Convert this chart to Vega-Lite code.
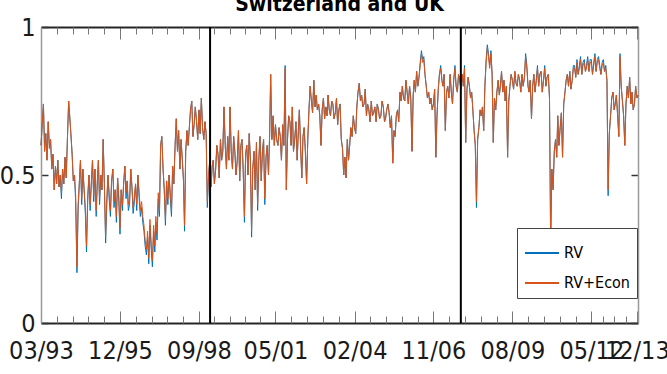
{
"$schema":"https://vega.github.io/schema/vega-lite/v6.json",
"width":597,"height":296,
"autosize":{"type":"none"},
"padding":{"left":41,"top":27,"right":29,"bottom":51},
"background":"white",
"config":{"view":{"stroke":null},"font":"DejaVu Sans Condensed, Liberation Sans, sans-serif","axis":{"grid":false,"title":null}},
"title":{"text":"Switzerland and UK","font":"DejaVu Sans Condensed, Liberation Sans, sans-serif","fontSize":21,"fontWeight":"bold","color":"#000","anchor":"middle","frame":"group","baseline":"alphabetic","offset":-17},
"data":{"values":[
{"t":"1993-03-01","a":0.6,"b":0.6},{"t":"1993-03-16","a":0.67,"b":0.67},{"t":"1993-04-01","a":0.74,"b":0.74},{"t":"1993-04-16","a":0.58,"b":0.58},
{"t":"1993-05-01","a":0.64,"b":0.64},{"t":"1993-05-16","a":0.55,"b":0.55},{"t":"1993-06-01","a":0.68,"b":0.68},{"t":"1993-06-16","a":0.59,"b":0.59},
{"t":"1993-07-01","a":0.62,"b":0.62},{"t":"1993-07-16","a":0.52,"b":0.52},{"t":"1993-08-01","a":0.57,"b":0.57},{"t":"1993-08-16","a":0.45,"b":0.45},
{"t":"1993-09-01","a":0.53,"b":0.53},{"t":"1993-09-16","a":0.47,"b":0.47},{"t":"1993-10-01","a":0.55,"b":0.55},{"t":"1993-10-16","a":0.46,"b":0.46},
{"t":"1993-11-01","a":0.5,"b":0.5},{"t":"1993-11-16","a":0.42,"b":0.44},{"t":"1993-12-01","a":0.52,"b":0.52},{"t":"1993-12-16","a":0.47,"b":0.47},
{"t":"1994-01-01","a":0.56,"b":0.56},{"t":"1994-01-16","a":0.49,"b":0.49},{"t":"1994-02-01","a":0.63,"b":0.63},{"t":"1994-02-16","a":0.75,"b":0.75},
{"t":"1994-03-01","a":0.7,"b":0.7},{"t":"1994-03-16","a":0.64,"b":0.64},{"t":"1994-04-01","a":0.57,"b":0.57},{"t":"1994-04-16","a":0.48,"b":0.48},
{"t":"1994-05-01","a":0.5,"b":0.5},{"t":"1994-05-16","a":0.41,"b":0.43},{"t":"1994-06-01","a":0.17,"b":0.19},{"t":"1994-06-16","a":0.38,"b":0.4},
{"t":"1994-07-01","a":0.47,"b":0.47},{"t":"1994-07-16","a":0.55,"b":0.55},{"t":"1994-08-01","a":0.4,"b":0.42},{"t":"1994-08-16","a":0.52,"b":0.52},
{"t":"1994-09-01","a":0.45,"b":0.45},{"t":"1994-09-16","a":0.37,"b":0.39},{"t":"1994-10-01","a":0.24,"b":0.26},{"t":"1994-10-16","a":0.41,"b":0.43},
{"t":"1994-11-01","a":0.5,"b":0.5},{"t":"1994-11-16","a":0.38,"b":0.4},{"t":"1994-12-01","a":0.47,"b":0.47},{"t":"1994-12-16","a":0.55,"b":0.55},
{"t":"1995-01-01","a":0.41,"b":0.43},{"t":"1995-01-16","a":0.52,"b":0.52},{"t":"1995-02-01","a":0.36,"b":0.38},{"t":"1995-02-16","a":0.48,"b":0.48},
{"t":"1995-03-01","a":0.55,"b":0.55},{"t":"1995-03-16","a":0.4,"b":0.42},{"t":"1995-04-01","a":0.5,"b":0.5},{"t":"1995-04-16","a":0.45,"b":0.45},
{"t":"1995-05-01","a":0.62,"b":0.62},{"t":"1995-05-16","a":0.47,"b":0.47},{"t":"1995-06-01","a":0.27,"b":0.29},{"t":"1995-06-16","a":0.4,"b":0.42},
{"t":"1995-07-01","a":0.5,"b":0.5},{"t":"1995-07-16","a":0.42,"b":0.44},{"t":"1995-08-01","a":0.36,"b":0.38},{"t":"1995-08-16","a":0.48,"b":0.48},
{"t":"1995-09-01","a":0.52,"b":0.52},{"t":"1995-09-16","a":0.39,"b":0.41},{"t":"1995-10-01","a":0.45,"b":0.45},{"t":"1995-10-16","a":0.34,"b":0.36},
{"t":"1995-11-01","a":0.49,"b":0.49},{"t":"1995-11-16","a":0.41,"b":0.43},{"t":"1995-12-01","a":0.3,"b":0.32},{"t":"1995-12-16","a":0.45,"b":0.45},
{"t":"1996-01-01","a":0.38,"b":0.4},{"t":"1996-01-16","a":0.47,"b":0.47},{"t":"1996-02-01","a":0.53,"b":0.53},{"t":"1996-02-16","a":0.42,"b":0.44},
{"t":"1996-03-01","a":0.48,"b":0.48},{"t":"1996-03-16","a":0.38,"b":0.4},{"t":"1996-04-01","a":0.4,"b":0.42},{"t":"1996-04-16","a":0.52,"b":0.52},
{"t":"1996-05-01","a":0.46,"b":0.46},{"t":"1996-05-16","a":0.37,"b":0.39},{"t":"1996-06-01","a":0.41,"b":0.43},{"t":"1996-06-16","a":0.47,"b":0.47},
{"t":"1996-07-01","a":0.38,"b":0.4},{"t":"1996-07-16","a":0.5,"b":0.5},{"t":"1996-08-01","a":0.42,"b":0.44},{"t":"1996-08-16","a":0.36,"b":0.38},
{"t":"1996-09-01","a":0.39,"b":0.41},{"t":"1996-09-16","a":0.34,"b":0.36},{"t":"1996-10-01","a":0.31,"b":0.33},{"t":"1996-10-16","a":0.26,"b":0.28},
{"t":"1996-11-01","a":0.23,"b":0.25},{"t":"1996-11-16","a":0.29,"b":0.31},{"t":"1996-12-01","a":0.2,"b":0.22},{"t":"1996-12-16","a":0.33,"b":0.35},
{"t":"1997-01-01","a":0.25,"b":0.27},{"t":"1997-01-16","a":0.19,"b":0.21},{"t":"1997-02-01","a":0.31,"b":0.33},{"t":"1997-02-16","a":0.24,"b":0.26},
{"t":"1997-03-01","a":0.34,"b":0.36},{"t":"1997-03-16","a":0.28,"b":0.3},{"t":"1997-04-01","a":0.42,"b":0.44},{"t":"1997-04-16","a":0.36,"b":0.38},
{"t":"1997-05-01","a":0.6,"b":0.6},{"t":"1997-05-16","a":0.63,"b":0.63},{"t":"1997-06-01","a":0.52,"b":0.52},{"t":"1997-06-16","a":0.45,"b":0.45},
{"t":"1997-07-01","a":0.33,"b":0.35},{"t":"1997-07-16","a":0.48,"b":0.48},{"t":"1997-08-01","a":0.4,"b":0.42},{"t":"1997-08-16","a":0.5,"b":0.5},
{"t":"1997-09-01","a":0.42,"b":0.44},{"t":"1997-09-16","a":0.36,"b":0.38},{"t":"1997-10-01","a":0.53,"b":0.53},{"t":"1997-10-16","a":0.47,"b":0.47},
{"t":"1997-11-01","a":0.6,"b":0.6},{"t":"1997-11-16","a":0.69,"b":0.69},{"t":"1997-12-01","a":0.58,"b":0.58},{"t":"1997-12-16","a":0.65,"b":0.65},
{"t":"1998-01-01","a":0.52,"b":0.52},{"t":"1998-01-16","a":0.62,"b":0.62},{"t":"1998-02-01","a":0.55,"b":0.55},{"t":"1998-02-16","a":0.48,"b":0.48},
{"t":"1998-03-01","a":0.31,"b":0.33},{"t":"1998-03-16","a":0.58,"b":0.58},{"t":"1998-04-01","a":0.65,"b":0.65},{"t":"1998-04-16","a":0.6,"b":0.6},
{"t":"1998-05-01","a":0.66,"b":0.66},{"t":"1998-05-16","a":0.72,"b":0.72},{"t":"1998-06-01","a":0.75,"b":0.75},{"t":"1998-06-16","a":0.63,"b":0.63},
{"t":"1998-07-01","a":0.67,"b":0.67},{"t":"1998-07-16","a":0.73,"b":0.73},{"t":"1998-08-01","a":0.68,"b":0.68},{"t":"1998-08-16","a":0.62,"b":0.62},
{"t":"1998-09-01","a":0.72,"b":0.72},{"t":"1998-09-16","a":0.64,"b":0.64},{"t":"1998-10-01","a":0.76,"b":0.76},{"t":"1998-10-16","a":0.66,"b":0.66},
{"t":"1998-11-01","a":0.62,"b":0.62},{"t":"1998-11-16","a":0.68,"b":0.68},{"t":"1998-12-01","a":0.64,"b":0.64},{"t":"1998-12-16","a":0.39,"b":0.41},
{"t":"1999-01-01","a":0.5,"b":0.5},{"t":"1999-01-16","a":0.55,"b":0.55},{"t":"1999-02-01","a":0.46,"b":0.46},{"t":"1999-02-16","a":0.53,"b":0.53},
{"t":"1999-03-01","a":0.55,"b":0.55},{"t":"1999-03-16","a":0.47,"b":0.47},{"t":"1999-04-01","a":0.52,"b":0.52},{"t":"1999-04-16","a":0.6,"b":0.6},
{"t":"1999-05-01","a":0.57,"b":0.57},{"t":"1999-05-16","a":0.49,"b":0.49},{"t":"1999-06-01","a":0.62,"b":0.62},{"t":"1999-06-16","a":0.55,"b":0.55},
{"t":"1999-07-01","a":0.58,"b":0.58},{"t":"1999-07-16","a":0.73,"b":0.73},{"t":"1999-08-01","a":0.6,"b":0.6},{"t":"1999-08-16","a":0.52,"b":0.52},
{"t":"1999-09-01","a":0.63,"b":0.63},{"t":"1999-09-16","a":0.55,"b":0.55},{"t":"1999-10-01","a":0.73,"b":0.73},{"t":"1999-10-16","a":0.58,"b":0.58},
{"t":"1999-11-01","a":0.52,"b":0.52},{"t":"1999-11-16","a":0.63,"b":0.63},{"t":"1999-12-01","a":0.58,"b":0.58},{"t":"1999-12-16","a":0.5,"b":0.5},
{"t":"2000-01-01","a":0.55,"b":0.55},{"t":"2000-01-16","a":0.65,"b":0.65},{"t":"2000-02-01","a":0.48,"b":0.48},{"t":"2000-02-16","a":0.6,"b":0.6},
{"t":"2000-03-01","a":0.62,"b":0.62},{"t":"2000-03-16","a":0.52,"b":0.52},{"t":"2000-04-01","a":0.34,"b":0.36},{"t":"2000-04-16","a":0.57,"b":0.57},
{"t":"2000-05-01","a":0.6,"b":0.6},{"t":"2000-05-16","a":0.5,"b":0.5},{"t":"2000-06-01","a":0.64,"b":0.64},{"t":"2000-06-16","a":0.55,"b":0.55},
{"t":"2000-07-01","a":0.29,"b":0.31},{"t":"2000-07-16","a":0.52,"b":0.52},{"t":"2000-08-01","a":0.58,"b":0.58},{"t":"2000-08-16","a":0.45,"b":0.45},
{"t":"2000-09-01","a":0.61,"b":0.61},{"t":"2000-09-16","a":0.38,"b":0.4},{"t":"2000-10-01","a":0.55,"b":0.55},{"t":"2000-10-16","a":0.63,"b":0.63},
{"t":"2000-11-01","a":0.48,"b":0.48},{"t":"2000-11-16","a":0.58,"b":0.58},{"t":"2000-12-01","a":0.62,"b":0.62},{"t":"2000-12-16","a":0.4,"b":0.42},
{"t":"2001-01-01","a":0.56,"b":0.56},{"t":"2001-01-16","a":0.6,"b":0.6},{"t":"2001-02-01","a":0.5,"b":0.5},{"t":"2001-02-16","a":0.64,"b":0.64},
{"t":"2001-03-01","a":0.84,"b":0.84},{"t":"2001-03-16","a":0.62,"b":0.62},{"t":"2001-04-01","a":0.7,"b":0.7},{"t":"2001-04-16","a":0.6,"b":0.6},
{"t":"2001-05-01","a":0.67,"b":0.67},{"t":"2001-05-16","a":0.62,"b":0.62},{"t":"2001-06-01","a":0.6,"b":0.6},{"t":"2001-06-16","a":0.66,"b":0.66},
{"t":"2001-07-01","a":0.63,"b":0.63},{"t":"2001-07-16","a":0.55,"b":0.55},{"t":"2001-08-01","a":0.67,"b":0.67},{"t":"2001-08-16","a":0.6,"b":0.6},
{"t":"2001-09-01","a":0.87,"b":0.86},{"t":"2001-09-16","a":0.45,"b":0.45},{"t":"2001-10-01","a":0.62,"b":0.62},{"t":"2001-10-16","a":0.7,"b":0.7},
{"t":"2001-11-01","a":0.68,"b":0.68},{"t":"2001-11-16","a":0.6,"b":0.6},{"t":"2001-12-01","a":0.73,"b":0.73},{"t":"2001-12-16","a":0.58,"b":0.58},
{"t":"2002-01-01","a":0.62,"b":0.62},{"t":"2002-01-16","a":0.68,"b":0.68},{"t":"2002-02-01","a":0.55,"b":0.55},{"t":"2002-02-16","a":0.65,"b":0.65},
{"t":"2002-03-01","a":0.72,"b":0.72},{"t":"2002-03-16","a":0.6,"b":0.6},{"t":"2002-04-01","a":0.49,"b":0.49},{"t":"2002-04-16","a":0.63,"b":0.63},
{"t":"2002-05-01","a":0.66,"b":0.66},{"t":"2002-05-16","a":0.58,"b":0.58},{"t":"2002-06-01","a":0.47,"b":0.47},{"t":"2002-06-16","a":0.62,"b":0.62},
{"t":"2002-07-01","a":0.72,"b":0.72},{"t":"2002-07-16","a":0.8,"b":0.8},{"t":"2002-08-01","a":0.75,"b":0.75},{"t":"2002-08-16","a":0.71,"b":0.71},
{"t":"2002-09-01","a":0.82,"b":0.82},{"t":"2002-09-16","a":0.73,"b":0.73},{"t":"2002-10-01","a":0.77,"b":0.77},{"t":"2002-10-16","a":0.72,"b":0.72},
{"t":"2002-11-01","a":0.74,"b":0.74},{"t":"2002-11-16","a":0.7,"b":0.7},{"t":"2002-12-01","a":0.6,"b":0.6},{"t":"2002-12-16","a":0.72,"b":0.72},
{"t":"2003-01-01","a":0.76,"b":0.76},{"t":"2003-01-16","a":0.69,"b":0.69},{"t":"2003-02-01","a":0.73,"b":0.73},{"t":"2003-02-16","a":0.7,"b":0.7},
{"t":"2003-03-01","a":0.77,"b":0.77},{"t":"2003-03-16","a":0.72,"b":0.72},{"t":"2003-04-01","a":0.7,"b":0.7},{"t":"2003-04-16","a":0.75,"b":0.75},
{"t":"2003-05-01","a":0.74,"b":0.74},{"t":"2003-05-16","a":0.69,"b":0.69},{"t":"2003-06-01","a":0.71,"b":0.71},{"t":"2003-06-16","a":0.76,"b":0.76},
{"t":"2003-07-01","a":0.67,"b":0.67},{"t":"2003-07-16","a":0.72,"b":0.72},{"t":"2003-08-01","a":0.74,"b":0.74},{"t":"2003-08-16","a":0.62,"b":0.62},
{"t":"2003-09-01","a":0.59,"b":0.59},{"t":"2003-09-16","a":0.5,"b":0.5},{"t":"2003-10-01","a":0.56,"b":0.56},{"t":"2003-10-16","a":0.49,"b":0.49},
{"t":"2003-11-01","a":0.62,"b":0.62},{"t":"2003-11-16","a":0.55,"b":0.55},{"t":"2003-12-01","a":0.6,"b":0.6},{"t":"2003-12-16","a":0.66,"b":0.66},
{"t":"2004-01-01","a":0.63,"b":0.63},{"t":"2004-01-16","a":0.7,"b":0.7},{"t":"2004-02-01","a":0.66,"b":0.66},{"t":"2004-02-16","a":0.64,"b":0.64},
{"t":"2004-03-01","a":0.73,"b":0.73},{"t":"2004-03-16","a":0.78,"b":0.78},{"t":"2004-04-01","a":0.81,"b":0.81},{"t":"2004-04-16","a":0.75,"b":0.75},
{"t":"2004-05-01","a":0.77,"b":0.77},{"t":"2004-05-16","a":0.73,"b":0.73},{"t":"2004-06-01","a":0.74,"b":0.74},{"t":"2004-06-16","a":0.79,"b":0.79},
{"t":"2004-07-01","a":0.7,"b":0.7},{"t":"2004-07-16","a":0.74,"b":0.74},{"t":"2004-08-01","a":0.72,"b":0.72},{"t":"2004-08-16","a":0.68,"b":0.68},
{"t":"2004-09-01","a":0.75,"b":0.75},{"t":"2004-09-16","a":0.7,"b":0.7},{"t":"2004-10-01","a":0.71,"b":0.71},{"t":"2004-10-16","a":0.73,"b":0.73},
{"t":"2004-11-01","a":0.68,"b":0.68},{"t":"2004-11-16","a":0.74,"b":0.74},{"t":"2004-12-01","a":0.72,"b":0.72},{"t":"2004-12-16","a":0.69,"b":0.69},
{"t":"2005-01-01","a":0.7,"b":0.7},{"t":"2005-01-16","a":0.75,"b":0.75},{"t":"2005-02-01","a":0.73,"b":0.73},{"t":"2005-02-16","a":0.68,"b":0.68},
{"t":"2005-03-01","a":0.69,"b":0.69},{"t":"2005-03-16","a":0.72,"b":0.72},{"t":"2005-04-01","a":0.74,"b":0.74},{"t":"2005-04-16","a":0.71,"b":0.71},
{"t":"2005-05-01","a":0.66,"b":0.66},{"t":"2005-05-16","a":0.7,"b":0.7},{"t":"2005-06-01","a":0.54,"b":0.54},{"t":"2005-06-16","a":0.65,"b":0.65},
{"t":"2005-07-01","a":0.63,"b":0.63},{"t":"2005-07-16","a":0.7,"b":0.7},{"t":"2005-08-01","a":0.72,"b":0.72},{"t":"2005-08-16","a":0.68,"b":0.68},
{"t":"2005-09-01","a":0.78,"b":0.78},{"t":"2005-09-16","a":0.75,"b":0.75},{"t":"2005-10-01","a":0.8,"b":0.8},{"t":"2005-10-16","a":0.76,"b":0.76},
{"t":"2005-11-01","a":0.75,"b":0.75},{"t":"2005-11-16","a":0.82,"b":0.82},{"t":"2005-12-01","a":0.78,"b":0.78},{"t":"2005-12-16","a":0.74,"b":0.74},
{"t":"2006-01-01","a":0.8,"b":0.8},{"t":"2006-01-16","a":0.76,"b":0.76},{"t":"2006-02-01","a":0.58,"b":0.58},{"t":"2006-02-16","a":0.77,"b":0.77},
{"t":"2006-03-01","a":0.82,"b":0.82},{"t":"2006-03-16","a":0.78,"b":0.78},{"t":"2006-04-01","a":0.85,"b":0.85},{"t":"2006-04-16","a":0.8,"b":0.8},
{"t":"2006-05-01","a":0.83,"b":0.83},{"t":"2006-05-16","a":0.88,"b":0.87},{"t":"2006-06-01","a":0.92,"b":0.91},{"t":"2006-06-16","a":0.89,"b":0.88},
{"t":"2006-07-01","a":0.9,"b":0.89},{"t":"2006-07-16","a":0.84,"b":0.84},{"t":"2006-08-01","a":0.8,"b":0.8},{"t":"2006-08-16","a":0.76,"b":0.76},
{"t":"2006-09-01","a":0.78,"b":0.78},{"t":"2006-09-16","a":0.74,"b":0.74},{"t":"2006-10-01","a":0.76,"b":0.76},{"t":"2006-10-16","a":0.72,"b":0.72},
{"t":"2006-11-01","a":0.74,"b":0.74},{"t":"2006-11-16","a":0.79,"b":0.79},{"t":"2006-12-01","a":0.56,"b":0.56},{"t":"2006-12-16","a":0.7,"b":0.7},
{"t":"2007-01-01","a":0.79,"b":0.79},{"t":"2007-01-16","a":0.84,"b":0.84},{"t":"2007-02-01","a":0.87,"b":0.86},{"t":"2007-02-16","a":0.82,"b":0.82},
{"t":"2007-03-01","a":0.8,"b":0.8},{"t":"2007-03-16","a":0.84,"b":0.84},{"t":"2007-04-01","a":0.65,"b":0.65},{"t":"2007-04-16","a":0.78,"b":0.78},
{"t":"2007-05-01","a":0.8,"b":0.8},{"t":"2007-05-16","a":0.76,"b":0.76},{"t":"2007-06-01","a":0.84,"b":0.84},{"t":"2007-06-16","a":0.78,"b":0.78},
{"t":"2007-07-01","a":0.74,"b":0.74},{"t":"2007-07-16","a":0.82,"b":0.82},{"t":"2007-08-01","a":0.87,"b":0.86},{"t":"2007-08-16","a":0.8,"b":0.8},
{"t":"2007-09-01","a":0.78,"b":0.78},{"t":"2007-09-16","a":0.84,"b":0.84},{"t":"2007-10-01","a":0.82,"b":0.82},{"t":"2007-10-16","a":0.79,"b":0.79},
{"t":"2007-11-01","a":0.84,"b":0.84},{"t":"2007-11-16","a":0.8,"b":0.8},{"t":"2007-12-01","a":0.87,"b":0.86},{"t":"2007-12-16","a":0.61,"b":0.61},
{"t":"2008-01-01","a":0.79,"b":0.79},{"t":"2008-01-16","a":0.83,"b":0.83},{"t":"2008-02-01","a":0.8,"b":0.8},{"t":"2008-02-16","a":0.76,"b":0.76},
{"t":"2008-03-01","a":0.78,"b":0.78},{"t":"2008-03-16","a":0.72,"b":0.72},{"t":"2008-04-01","a":0.65,"b":0.65},{"t":"2008-04-16","a":0.6,"b":0.6},
{"t":"2008-05-01","a":0.39,"b":0.41},{"t":"2008-05-16","a":0.62,"b":0.62},{"t":"2008-06-01","a":0.66,"b":0.66},{"t":"2008-06-16","a":0.72,"b":0.72},
{"t":"2008-07-01","a":0.7,"b":0.7},{"t":"2008-07-16","a":0.73,"b":0.73},{"t":"2008-08-01","a":0.65,"b":0.65},{"t":"2008-08-16","a":0.8,"b":0.8},
{"t":"2008-09-01","a":0.89,"b":0.88},{"t":"2008-09-16","a":0.94,"b":0.93},{"t":"2008-10-01","a":0.91,"b":0.9},{"t":"2008-10-16","a":0.87,"b":0.86},
{"t":"2008-11-01","a":0.92,"b":0.91},{"t":"2008-11-16","a":0.84,"b":0.84},{"t":"2008-12-01","a":0.61,"b":0.61},{"t":"2008-12-16","a":0.76,"b":0.76},
{"t":"2009-01-01","a":0.72,"b":0.72},{"t":"2009-01-16","a":0.78,"b":0.78},{"t":"2009-02-01","a":0.82,"b":0.82},{"t":"2009-02-16","a":0.77,"b":0.77},
{"t":"2009-03-01","a":0.8,"b":0.8},{"t":"2009-03-16","a":0.85,"b":0.85},{"t":"2009-04-01","a":0.78,"b":0.78},{"t":"2009-04-16","a":0.82,"b":0.82},
{"t":"2009-05-01","a":0.75,"b":0.75},{"t":"2009-05-16","a":0.8,"b":0.8},{"t":"2009-06-01","a":0.56,"b":0.56},{"t":"2009-06-16","a":0.75,"b":0.75},
{"t":"2009-07-01","a":0.8,"b":0.8},{"t":"2009-07-16","a":0.84,"b":0.84},{"t":"2009-08-01","a":0.82,"b":0.82},{"t":"2009-08-16","a":0.79,"b":0.79},
{"t":"2009-09-01","a":0.85,"b":0.85},{"t":"2009-09-16","a":0.81,"b":0.81},{"t":"2009-10-01","a":0.8,"b":0.8},{"t":"2009-10-16","a":0.84,"b":0.84},
{"t":"2009-11-01","a":0.82,"b":0.82},{"t":"2009-11-16","a":0.78,"b":0.78},{"t":"2009-12-01","a":0.84,"b":0.84},{"t":"2009-12-16","a":0.8,"b":0.8},
{"t":"2010-01-01","a":0.83,"b":0.83},{"t":"2010-01-16","a":0.91,"b":0.9},{"t":"2010-02-01","a":0.87,"b":0.86},{"t":"2010-02-16","a":0.8,"b":0.8},
{"t":"2010-03-01","a":0.78,"b":0.78},{"t":"2010-03-16","a":0.82,"b":0.82},{"t":"2010-04-01","a":0.69,"b":0.69},{"t":"2010-04-16","a":0.8,"b":0.8},
{"t":"2010-05-01","a":0.84,"b":0.84},{"t":"2010-05-16","a":0.78,"b":0.78},{"t":"2010-06-01","a":0.82,"b":0.82},{"t":"2010-06-16","a":0.87,"b":0.86},
{"t":"2010-07-01","a":0.8,"b":0.8},{"t":"2010-07-16","a":0.84,"b":0.84},{"t":"2010-08-01","a":0.85,"b":0.85},{"t":"2010-08-16","a":0.78,"b":0.78},
{"t":"2010-09-01","a":0.82,"b":0.82},{"t":"2010-09-16","a":0.87,"b":0.86},{"t":"2010-10-01","a":0.8,"b":0.8},{"t":"2010-10-16","a":0.83,"b":0.83},
{"t":"2010-11-01","a":0.84,"b":0.84},{"t":"2010-11-16","a":0.76,"b":0.76},{"t":"2010-12-01","a":0.26,"b":0.28},{"t":"2010-12-16","a":0.52,"b":0.52},
{"t":"2011-01-01","a":0.45,"b":0.45},{"t":"2011-01-16","a":0.58,"b":0.58},{"t":"2011-02-01","a":0.62,"b":0.62},{"t":"2011-02-16","a":0.56,"b":0.56},
{"t":"2011-03-01","a":0.7,"b":0.7},{"t":"2011-03-16","a":0.6,"b":0.6},{"t":"2011-04-01","a":0.66,"b":0.66},{"t":"2011-04-16","a":0.71,"b":0.71},
{"t":"2011-05-01","a":0.56,"b":0.56},{"t":"2011-05-16","a":0.74,"b":0.74},{"t":"2011-06-01","a":0.78,"b":0.78},{"t":"2011-06-16","a":0.82,"b":0.82},
{"t":"2011-07-01","a":0.84,"b":0.84},{"t":"2011-07-16","a":0.8,"b":0.8},{"t":"2011-08-01","a":0.85,"b":0.85},{"t":"2011-08-16","a":0.79,"b":0.79},
{"t":"2011-09-01","a":0.82,"b":0.82},{"t":"2011-09-16","a":0.87,"b":0.86},{"t":"2011-10-01","a":0.87,"b":0.86},{"t":"2011-10-16","a":0.83,"b":0.83},
{"t":"2011-11-01","a":0.89,"b":0.88},{"t":"2011-11-16","a":0.84,"b":0.84},{"t":"2011-12-01","a":0.87,"b":0.86},{"t":"2011-12-16","a":0.9,"b":0.89},
{"t":"2012-01-01","a":0.84,"b":0.84},{"t":"2012-01-16","a":0.88,"b":0.87},{"t":"2012-02-01","a":0.89,"b":0.88},{"t":"2012-02-16","a":0.85,"b":0.85},
{"t":"2012-03-01","a":0.87,"b":0.86},{"t":"2012-03-16","a":0.9,"b":0.89},{"t":"2012-04-01","a":0.85,"b":0.85},{"t":"2012-04-16","a":0.89,"b":0.88},
{"t":"2012-05-01","a":0.89,"b":0.88},{"t":"2012-05-16","a":0.84,"b":0.84},{"t":"2012-06-01","a":0.88,"b":0.87},{"t":"2012-06-16","a":0.91,"b":0.9},
{"t":"2012-07-01","a":0.85,"b":0.85},{"t":"2012-07-16","a":0.89,"b":0.88},{"t":"2012-08-01","a":0.9,"b":0.89},{"t":"2012-08-16","a":0.87,"b":0.86},
{"t":"2012-09-01","a":0.84,"b":0.84},{"t":"2012-09-16","a":0.88,"b":0.87},{"t":"2012-10-01","a":0.89,"b":0.88},{"t":"2012-10-16","a":0.85,"b":0.85},
{"t":"2012-11-01","a":0.87,"b":0.86},{"t":"2012-11-16","a":0.82,"b":0.82},{"t":"2012-12-01","a":0.43,"b":0.45},{"t":"2012-12-16","a":0.64,"b":0.64},
{"t":"2013-01-01","a":0.7,"b":0.7},{"t":"2013-01-16","a":0.76,"b":0.76},{"t":"2013-02-01","a":0.78,"b":0.78},{"t":"2013-02-16","a":0.72,"b":0.72},
{"t":"2013-03-01","a":0.74,"b":0.74},{"t":"2013-03-16","a":0.77,"b":0.77},{"t":"2013-04-01","a":0.7,"b":0.7},{"t":"2013-04-16","a":0.63,"b":0.63},
{"t":"2013-05-01","a":0.91,"b":0.9},{"t":"2013-05-16","a":0.8,"b":0.8},{"t":"2013-06-01","a":0.75,"b":0.75},{"t":"2013-06-16","a":0.7,"b":0.7},
{"t":"2013-07-01","a":0.6,"b":0.6},{"t":"2013-07-16","a":0.74,"b":0.74},{"t":"2013-08-01","a":0.8,"b":0.8},{"t":"2013-08-16","a":0.76,"b":0.76},
{"t":"2013-09-01","a":0.83,"b":0.83},{"t":"2013-09-16","a":0.74,"b":0.74},{"t":"2013-10-01","a":0.78,"b":0.78},{"t":"2013-10-16","a":0.72,"b":0.72},
{"t":"2013-11-01","a":0.74,"b":0.74},{"t":"2013-11-16","a":0.8,"b":0.8},{"t":"2013-12-01","a":0.76,"b":0.76},{"t":"2013-12-16","a":0.77,"b":0.77}
]},
"transform":[{"fold":["a","b"],"as":["k","v"]}],
"layer":[
{"mark":{"type":"line","strokeWidth":1},
 "encoding":{
  "x":{"field":"t","type":"temporal",
   "scale":{"type":"utc","domain":[{"year":1993,"month":3,"date":1,"utc":true},{"year":2013,"month":12,"date":16,"utc":true}]},
   "axis":{"orient":"bottom","values":[{"year":1993,"month":3,"date":1,"utc":true},{"year":1995,"month":12,"date":1,"utc":true},{"year":1998,"month":9,"date":1,"utc":true},{"year":2001,"month":5,"date":1,"utc":true},{"year":2004,"month":2,"date":1,"utc":true},{"year":2006,"month":11,"date":1,"utc":true},{"year":2009,"month":8,"date":1,"utc":true},{"year":2012,"month":5,"date":1,"utc":true},{"year":2013,"month":12,"date":1,"utc":true}],
    "format":"%m/%y","tickSize":-12,"tickColor":"#777","tickWidth":1,"domainColor":"#262626","domainWidth":2,
    "labelFont":"DejaVu Sans Condensed, Liberation Sans, sans-serif","labelFontSize":25,"labelColor":"#1a1a1a","labelPadding":27,"labelOverlap":false,"labelFlush":false,"labelBound":false}},
  "y":{"field":"v","type":"quantitative","scale":{"domain":[0,1],"nice":false,"zero":false},
   "axis":{"orient":"left","values":[0,0.5,1],"format":"~g","tickSize":-7,"tickColor":"#333","tickWidth":1.5,"domainColor":"#999","domainWidth":1.5,
    "labelFont":"DejaVu Sans Condensed, Liberation Sans, sans-serif","labelFontSize":25,"labelColor":"#1a1a1a","labelPadding":13,"labelFlush":false,"labelOverlap":false,"labelBound":false}},
  "color":{"field":"k","type":"nominal","scale":{"domain":["a","b"],"range":["#0072BD","#D95319"]},
   "legend":{"orient":"none","legendX":476,"legendY":201,"title":null,"symbolType":"stroke","symbolSize":1156,"symbolStrokeWidth":2,
    "labelFont":"DejaVu Sans Condensed, Liberation Sans, sans-serif","labelFontSize":16,"labelColor":"#000","labelExpr":"datum.value == 'a' ? 'RV' : 'RV+Econ'",
    "strokeColor":"#444","fillColor":"white","padding":7,"rowPadding":4,"labelOffset":4}}
 }},
{"mark":{"type":"line","opacity":0},
 "encoding":{
  "x":{"field":"t","type":"temporal",
   "axis":{"orient":"top","values":[{"year":1993,"month":3,"date":1,"utc":true},{"year":1995,"month":12,"date":1,"utc":true},{"year":1998,"month":9,"date":1,"utc":true},{"year":2001,"month":5,"date":1,"utc":true},{"year":2004,"month":2,"date":1,"utc":true},{"year":2006,"month":11,"date":1,"utc":true},{"year":2009,"month":8,"date":1,"utc":true},{"year":2012,"month":5,"date":1,"utc":true},{"year":2013,"month":12,"date":1,"utc":true}],
    "labels":false,"tickSize":-12,"tickColor":"#777","tickWidth":1,"domainColor":"#262626","domainWidth":2}},
  "y":{"field":"v","type":"quantitative",
   "axis":{"orient":"right","values":[0,0.5,1],"labels":false,"tickSize":-7,"tickColor":"#333","tickWidth":1.5,"domainColor":"#999","domainWidth":1.5}},
  "detail":{"field":"k"}
 }},
{"mark":{"type":"line","opacity":0},
 "encoding":{
  "x":{"field":"t","type":"temporal",
   "axis":{"orient":"bottom","values":[{"year":1993,"month":9,"date":19,"utc":true},{"year":1994,"month":4,"date":7,"utc":true},{"year":1994,"month":10,"date":25,"utc":true},{"year":1995,"month":5,"date":13,"utc":true},{"year":1996,"month":6,"date":19,"utc":true},{"year":1997,"month":1,"date":7,"utc":true},{"year":1997,"month":7,"date":25,"utc":true},{"year":1998,"month":2,"date":13,"utc":true},{"year":1999,"month":3,"date":13,"utc":true},{"year":1999,"month":9,"date":25,"utc":true},{"year":2000,"month":4,"date":7,"utc":true},{"year":2000,"month":10,"date":19,"utc":true},{"year":2001,"month":11,"date":19,"utc":true},{"year":2002,"month":6,"date":7,"utc":true},{"year":2002,"month":12,"date":25,"utc":true},{"year":2003,"month":7,"date":13,"utc":true},{"year":2004,"month":8,"date":19,"utc":true},{"year":2005,"month":3,"date":7,"utc":true},{"year":2005,"month":9,"date":25,"utc":true},{"year":2006,"month":4,"date":13,"utc":true},{"year":2007,"month":5,"date":19,"utc":true},{"year":2007,"month":12,"date":7,"utc":true},{"year":2008,"month":6,"date":25,"utc":true},{"year":2009,"month":1,"date":13,"utc":true},{"year":2010,"month":2,"date":19,"utc":true},{"year":2010,"month":9,"date":7,"utc":true},{"year":2011,"month":3,"date":25,"utc":true},{"year":2011,"month":10,"date":13,"utc":true},{"year":2012,"month":9,"date":25,"utc":true},{"year":2013,"month":2,"date":19,"utc":true},{"year":2013,"month":7,"date":13,"utc":true}],
    "labels":false,"tickSize":-7,"tickColor":"#777","tickWidth":1,"domain":false}},
  "y":{"field":"v","type":"quantitative","axis":null},
  "detail":{"field":"k"}
 }},
{"mark":{"type":"line","opacity":0},
 "encoding":{
  "x":{"field":"t","type":"temporal",
   "axis":{"orient":"top","values":[{"year":1993,"month":9,"date":19,"utc":true},{"year":1994,"month":4,"date":7,"utc":true},{"year":1994,"month":10,"date":25,"utc":true},{"year":1995,"month":5,"date":13,"utc":true},{"year":1996,"month":6,"date":19,"utc":true},{"year":1997,"month":1,"date":7,"utc":true},{"year":1997,"month":7,"date":25,"utc":true},{"year":1998,"month":2,"date":13,"utc":true},{"year":1999,"month":3,"date":13,"utc":true},{"year":1999,"month":9,"date":25,"utc":true},{"year":2000,"month":4,"date":7,"utc":true},{"year":2000,"month":10,"date":19,"utc":true},{"year":2001,"month":11,"date":19,"utc":true},{"year":2002,"month":6,"date":7,"utc":true},{"year":2002,"month":12,"date":25,"utc":true},{"year":2003,"month":7,"date":13,"utc":true},{"year":2004,"month":8,"date":19,"utc":true},{"year":2005,"month":3,"date":7,"utc":true},{"year":2005,"month":9,"date":25,"utc":true},{"year":2006,"month":4,"date":13,"utc":true},{"year":2007,"month":5,"date":19,"utc":true},{"year":2007,"month":12,"date":7,"utc":true},{"year":2008,"month":6,"date":25,"utc":true},{"year":2009,"month":1,"date":13,"utc":true},{"year":2010,"month":2,"date":19,"utc":true},{"year":2010,"month":9,"date":7,"utc":true},{"year":2011,"month":3,"date":25,"utc":true},{"year":2011,"month":10,"date":13,"utc":true},{"year":2012,"month":9,"date":25,"utc":true},{"year":2013,"month":2,"date":19,"utc":true},{"year":2013,"month":7,"date":13,"utc":true}],
    "labels":false,"tickSize":-7,"tickColor":"#777","tickWidth":1,"domain":false}},
  "y":{"field":"v","type":"quantitative","axis":null},
  "detail":{"field":"k"}
 }},
{"data":{"values":[{"t":"1999-01-20"},{"t":"2007-10-15"}]},
 "mark":{"type":"rule","color":"#000","strokeWidth":2},
 "encoding":{"x":{"field":"t","type":"temporal","axis":null}}}
],
"resolve":{"axis":{"x":"independent","y":"independent"}}
}
